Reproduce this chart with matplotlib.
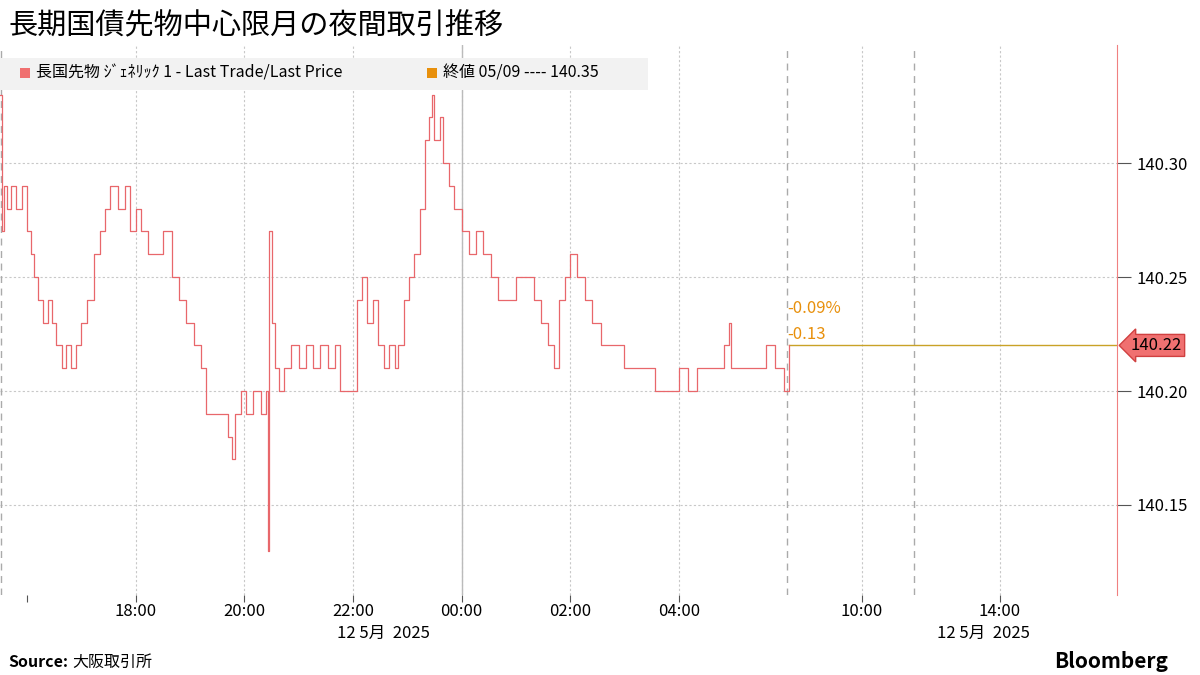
import matplotlib as mpl

mpl.use("Agg")

import matplotlib.pyplot as plt
from matplotlib.patches import Rectangle

mpl.rcParams["font.family"] = ["Noto Sans CJK JP", "DejaVu Sans"]

RED = "#e8676b"
ORANGE = "#e8900c"
GRID = "#c8c8c8"

# minutes after 15:30 (night session), last price
minutes = [0, 2, 4, 8, 12, 18, 24, 30, 34, 38, 42, 48, 53, 58, 62, 68, 73, 78, 84, 90,
           96, 104, 110, 116, 122, 130, 138, 144, 150, 156, 164, 172, 180, 190, 198, 206,
           214, 222, 228, 240, 252, 256, 260, 266, 272, 280, 288, 294, 296, 297, 300, 304,
           308, 314, 322, 330, 338, 346, 354, 362, 370, 376, 386, 394, 400, 406, 412, 418,
           424, 430, 436, 440, 446, 452, 458, 464, 470, 474, 477, 480, 486, 490, 496, 502,
           510, 518, 526, 534, 542, 550, 560, 570, 580, 590, 598, 606, 612, 618, 624, 630,
           638, 646, 654, 664, 676, 690, 714, 724, 740, 750, 760, 770, 800, 806, 808, 840,
           846, 856, 866, 872]
prices = [140.33, 140.27, 140.29, 140.28, 140.29, 140.28, 140.29, 140.27, 140.26, 140.25,
          140.24, 140.23, 140.24, 140.23, 140.22, 140.21, 140.22, 140.21, 140.22, 140.23,
          140.24, 140.26, 140.27, 140.28, 140.29, 140.28, 140.29, 140.27, 140.28, 140.27,
          140.26, 140.26, 140.27, 140.25, 140.24, 140.23, 140.22, 140.21, 140.19, 140.19,
          140.18, 140.17, 140.19, 140.20, 140.19, 140.20, 140.19, 140.20, 140.13, 140.27,
          140.23, 140.21, 140.20, 140.21, 140.22, 140.21, 140.22, 140.21, 140.22, 140.21,
          140.22, 140.20, 140.20, 140.24, 140.25, 140.23, 140.24, 140.22, 140.21, 140.22,
          140.21, 140.22, 140.24, 140.25, 140.26, 140.28, 140.31, 140.32, 140.33, 140.31,
          140.32, 140.30, 140.29, 140.28, 140.27, 140.26, 140.27, 140.26, 140.25, 140.24,
          140.24, 140.25, 140.25, 140.24, 140.23, 140.22, 140.21, 140.24, 140.25, 140.26,
          140.25, 140.24, 140.23, 140.22, 140.22, 140.21, 140.21, 140.20, 140.20, 140.21,
          140.20, 140.21, 140.22, 140.23, 140.21, 140.21, 140.22, 140.21, 140.20, 140.22]
last_price = 140.22
prev_close = 140.35
change = -0.13
change_pct = -0.09

night_ticks = ["18:00", "20:00", "22:00", "00:00", "02:00", "04:00"]
day_ticks = ["10:00", "14:00"]
y_ticks = [140.15, 140.20, 140.25, 140.30]

PX_PER_HOUR_NIGHT = 54.3
PX_PER_HOUR_DAY = 34.5


def night_pos(minute):
    return minute / 60 * PX_PER_HOUR_NIGHT


def clock_to_night(label):
    h, m = map(int, label.split(":"))
    hours = (h + m / 60 - 15.5) % 24
    return hours * PX_PER_HOUR_NIGHT


def clock_to_day(label):
    h, m = map(int, label.split(":"))
    return 862 + (h + m / 60 - 10) * PX_PER_HOUR_DAY


fig = plt.figure(figsize=(12, 6.75), dpi=100)
ax = fig.add_axes([0, 80 / 675, 1117 / 1200, 550 / 675])
ax.set_xlim(0, 1117)
ax.set_ylim(140.1105, 140.3518)

xs = [night_pos(m) for m in minutes]
ax.step(xs, prices, where="post", color=RED, linewidth=0.9, zorder=3)

# grid
for y in y_ticks:
    ax.axhline(y, color=GRID, linestyle=(0, (2, 2)), linewidth=0.8, zorder=1)
for lab in night_ticks:
    ax.axvline(clock_to_night(lab), color=GRID, linestyle=(0, (2, 2)), linewidth=0.8, zorder=1)
for lab in day_ticks:
    ax.axvline(clock_to_day(lab), color=GRID, linestyle=(0, (2, 2)), linewidth=0.8, zorder=1)
ax.axvline(clock_to_night("00:00"), color="#bbbbbb", linewidth=1.0, zorder=1)
for xb in [clock_to_night("15:30") + 0.8, clock_to_night("06:00"), clock_to_day("11:30")]:
    ax.axvline(xb, color="#aaaaaa", linestyle=(0, (5, 4)), linewidth=1.0, zorder=1)

# last price line
ax.plot([night_pos(minutes[-1]), 1117], [last_price, last_price], color="#c9a227",
        linewidth=1.0, zorder=2)
ax.text(night_pos(minutes[-1]) - 2, last_price + 0.0163, f"-{abs(change_pct):.2f}%",
        color=ORANGE, fontsize=12, ha="left", va="center")
ax.text(night_pos(minutes[-1]) - 2, last_price + 0.0048, f"-{abs(change):.2f}",
        color=ORANGE, fontsize=12, ha="left", va="center")

# axes styling
for s in ["top", "left", "bottom"]:
    ax.spines[s].set_visible(False)
ax.spines["right"].set_color("#f08080")
ax.yaxis.tick_right()
ax.set_yticks(y_ticks)
ax.set_yticklabels([f"{v:.2f}" for v in y_ticks], fontsize=12)
ax.tick_params(axis="y", length=10, color="#555555", pad=4)
xt = [clock_to_night(l) for l in night_ticks] + [clock_to_day(l) for l in day_ticks]
ax.set_xticks(xt + [clock_to_night("16:00")])
ax.set_xticklabels(night_ticks + day_ticks + [""], fontsize=12)
ax.tick_params(axis="x", length=5, color="#555555", pad=1)
ax.text(clock_to_night("22:00") + 30, -0.055, "12 5月  2025", transform=ax.get_xaxis_transform(),
        ha="center", va="top", fontsize=12)
ax.text(clock_to_day("14:00") - 17, -0.055, "12 5月  2025", transform=ax.get_xaxis_transform(),
        ha="center", va="top", fontsize=12)

# last price tag
ax.annotate(f"{last_price:.2f}", xy=(1, last_price), xycoords=("axes fraction", "data"),
            xytext=(10, 0), textcoords="offset points", fontsize=12, va="center", ha="left",
            bbox=dict(boxstyle="larrow,pad=0.15", fc="#f07070", ec="#d04040"), zorder=6)

# legend band
fig.patches.append(Rectangle((0, 1 - 90 / 675), 648 / 1200, 32 / 675, transform=fig.transFigure,
                             facecolor="#f2f2f2", edgecolor="none", zorder=5))
fig.patches.append(Rectangle((20 / 1200, 1 - 78 / 675), 10 / 1200, 10 / 675, transform=fig.transFigure,
                             facecolor="#f07070", edgecolor="none", zorder=6))
fig.text(36 / 1200, 1 - 73 / 675, "長国先物 ｼﾞｪﾈﾘｯｸ 1 - Last Trade/Last Price", fontsize=11.5,
         va="center", zorder=7)
fig.patches.append(Rectangle((427 / 1200, 1 - 78 / 675), 10 / 1200, 10 / 675, transform=fig.transFigure,
                             facecolor=ORANGE, edgecolor="none", zorder=6))
fig.text(443 / 1200, 1 - 73 / 675, f"終値 05/09 ---- {prev_close:.2f}", fontsize=11.5,
         va="center", zorder=7)

fig.text(8 / 1200, 1 - 26 / 675, "長期国債先物中心限月の夜間取引推移", fontsize=21, va="center")
fig.text(8 / 1200, 13 / 675, "Source:", fontsize=11.5, fontweight="bold", va="center")
fig.text(72 / 1200, 13 / 675, "大阪取引所", fontsize=11.5, va="center")
fig.text(1168 / 1200, 13 / 675, "Bloomberg", fontsize=15, fontweight="bold", va="center", ha="right")

fig.savefig("out.png", dpi=100)
